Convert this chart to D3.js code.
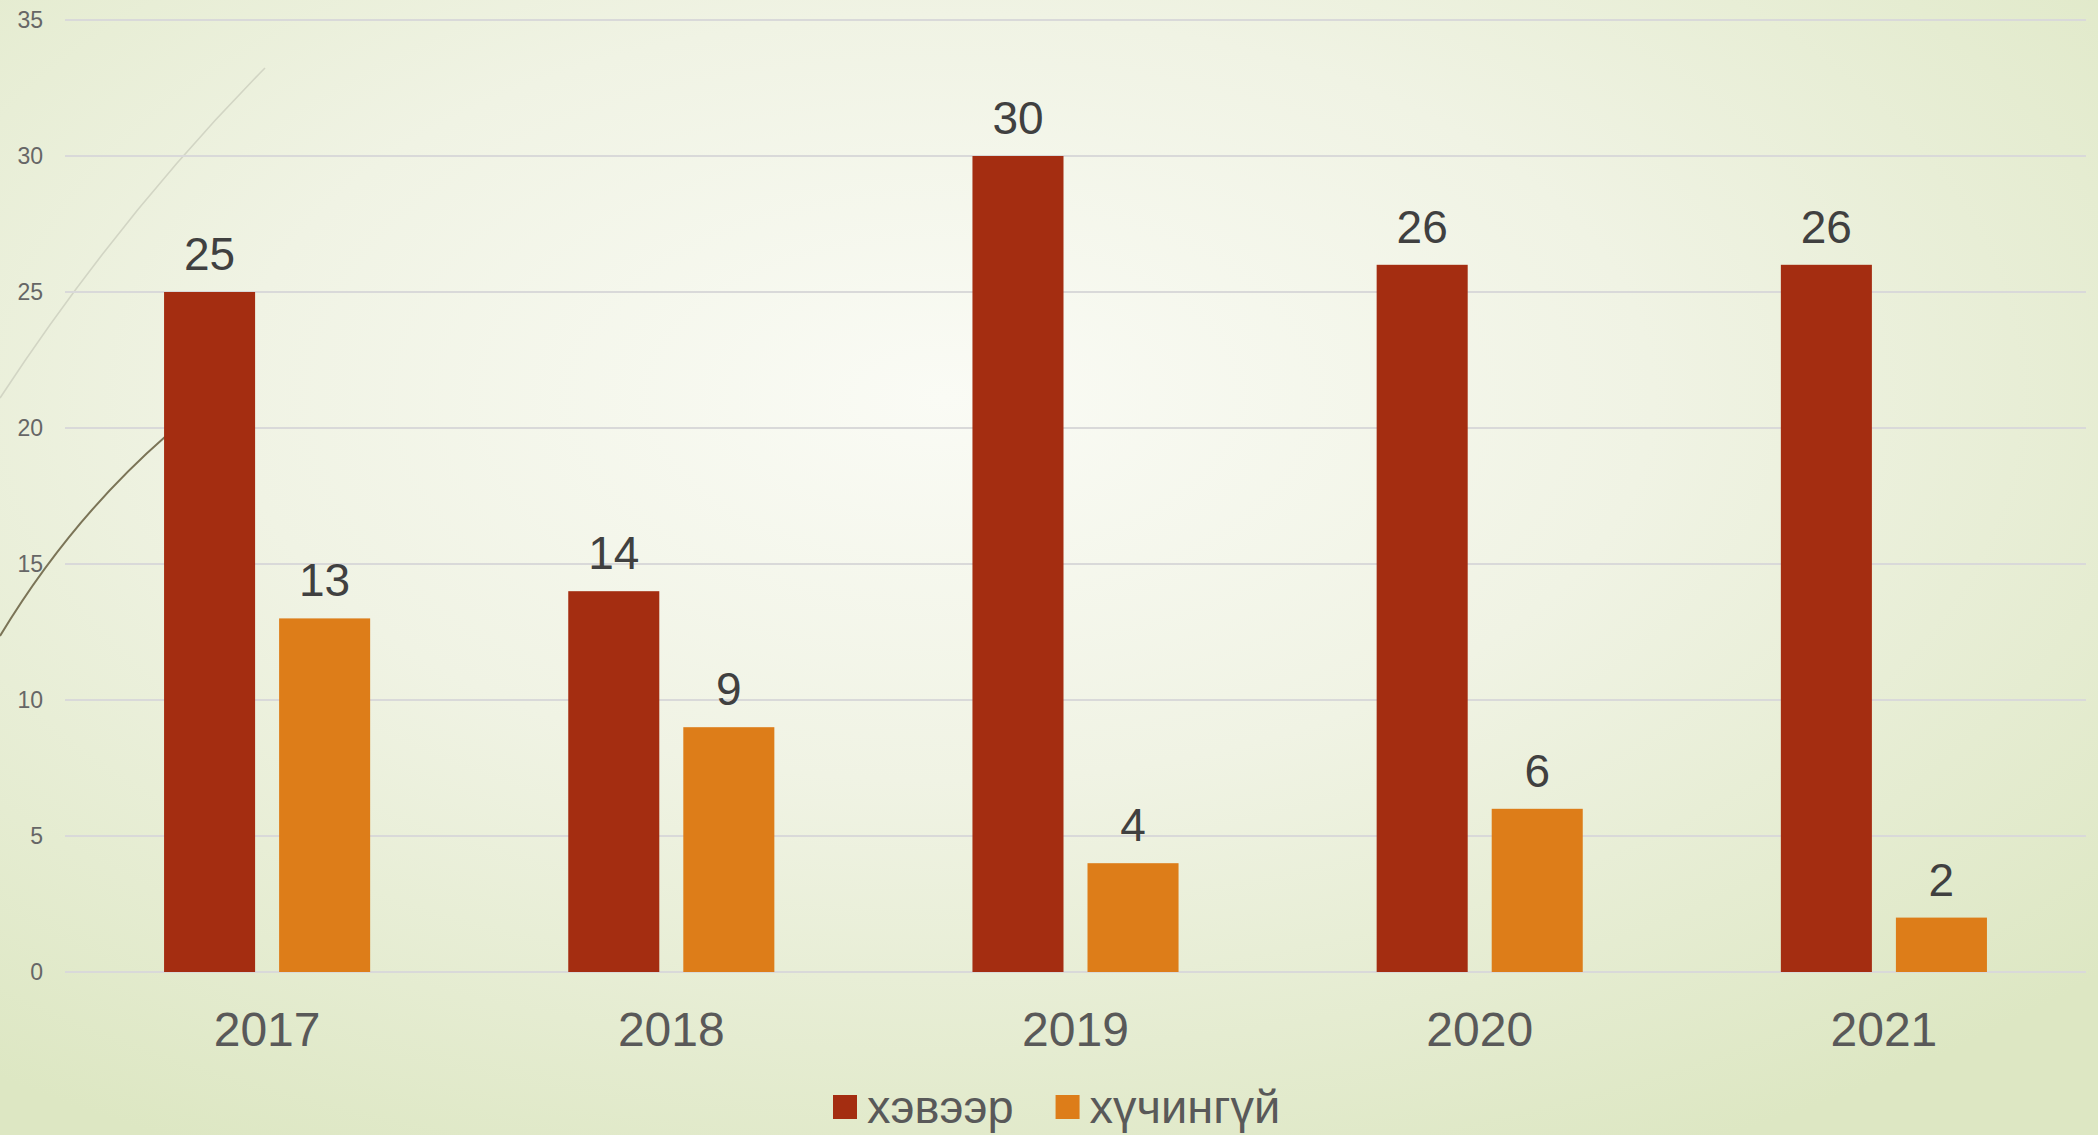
<!DOCTYPE html>
<html>
<head>
<meta charset="utf-8">
<script src="https://cdn.jsdelivr.net/npm/d3@7"></script>
<style>
  html, body { margin: 0; padding: 0; overflow: hidden; }
  text { font-family: "Liberation Sans", Arial, sans-serif; }
</style>
</head>
<body>
<div id="chart"></div>
<script>
var width = 2098;
var height = 1135;

// data
var years = ["2017", "2018", "2019", "2020", "2021"];
var seriesNames = ["хэвээр", "хүчингүй"];
var seriesColors = ["#a42d11", "#dd7d19"];
var hevee = [25, 14, 30, 26, 26];
var huchingui = [13, 9, 4, 6, 2];
var yTicks = [0, 5, 10, 15, 20, 25, 30, 35];

var rows = years.map((y, i) => ({ year: y, values: [hevee[i], huchingui[i]] }));

var svg = d3.select("#chart")
            .append("svg")
            .attr("width", width)
            .attr("height", height);

// background
var defs = svg.append("defs");
var bg = defs.append("radialGradient")
             .attr("id", "bg")
             .attr("cx", "45%")
             .attr("cy", "35%")
             .attr("r", "75%");
bg.append("stop").attr("offset", "0%").attr("stop-color", "#fafbf5");
bg.append("stop").attr("offset", "45%").attr("stop-color", "#f0f3e4");
bg.append("stop").attr("offset", "100%").attr("stop-color", "#dde7c3");

svg.append("rect")
   .attr("width", width)
   .attr("height", height)
   .attr("fill", "url(#bg)");

// decorative theme curves at the left
svg.append("path")
   .attr("d", "M0,398 Q120,215 265,68")
   .attr("fill", "none")
   .attr("stroke", "#d2d5c4")
   .attr("stroke-width", 1.6);

svg.append("path")
   .attr("d", "M0,636 Q70,520 166,436")
   .attr("fill", "none")
   .attr("stroke", "#7b7457")
   .attr("stroke-width", 2);

// scales
var x0 = d3.scaleBand()
           .domain(years)
           .range([65, 2086]);

var x1 = d3.scaleBand()
           .domain(d3.range(seriesNames.length))
           .range([0, x0.bandwidth()])
           .paddingInner(0.2087)
           .paddingOuter(0.861);

var y = d3.scaleLinear()
          .domain([0, 35])
          .range([972, 20]);

// gridlines
svg.append("g")
   .selectAll("line")
   .data(yTicks)
   .join("line")
   .attr("x1", 65)
   .attr("x2", 2086)
   .attr("y1", d => y(d))
   .attr("y2", d => y(d))
   .style("stroke", "#d9d9d9")
   .style("stroke-width", 2);

// y tick labels
svg.append("g")
   .selectAll("text")
   .data(yTicks)
   .join("text")
   .attr("x", 43)
   .attr("y", d => y(d))
   .attr("dy", "0.35em")
   .attr("text-anchor", "end")
   .style("font-size", "23px")
   .style("fill", "#666666")
   .text(d => d);

// bars
var groups = svg.append("g")
                .selectAll("g")
                .data(rows)
                .join("g")
                .attr("transform", d => "translate(" + x0(d.year) + ",0)");

groups.selectAll("rect")
      .data(d => d.values)
      .join("rect")
      .attr("x", (d, i) => x1(i))
      .attr("y", d => y(d))
      .attr("width", x1.bandwidth())
      .attr("height", d => y(0) - y(d))
      .attr("fill", (d, i) => seriesColors[i]);

groups.selectAll("text")
      .data(d => d.values)
      .join("text")
      .attr("x", (d, i) => x1(i) + x1.bandwidth() / 2)
      .attr("y", d => y(d) - 22)
      .attr("text-anchor", "middle")
      .style("font-size", "46px")
      .style("fill", "#404040")
      .text(d => d);

// x labels
svg.append("g")
   .selectAll("text")
   .data(years)
   .join("text")
   .attr("x", d => x0(d) + x0.bandwidth() / 2)
   .attr("y", 1046)
   .attr("text-anchor", "middle")
   .style("font-size", "48px")
   .style("fill", "#595959")
   .text(d => d);

// legend
var legend = svg.append("g");
var lx = 833;
seriesNames.forEach((name, i) => {
    legend.append("rect")
          .attr("x", lx)
          .attr("y", 1095)
          .attr("width", 24)
          .attr("height", 24)
          .attr("fill", seriesColors[i]);
    var t = legend.append("text")
                  .attr("x", lx + 34)
                  .attr("y", 1123)
                  .style("font-size", "47px")
                  .style("fill", "#595959")
                  .text(name);
    lx = lx + 34 + t.node().getComputedTextLength() + 42;
});
</script>
</body>
</html>
